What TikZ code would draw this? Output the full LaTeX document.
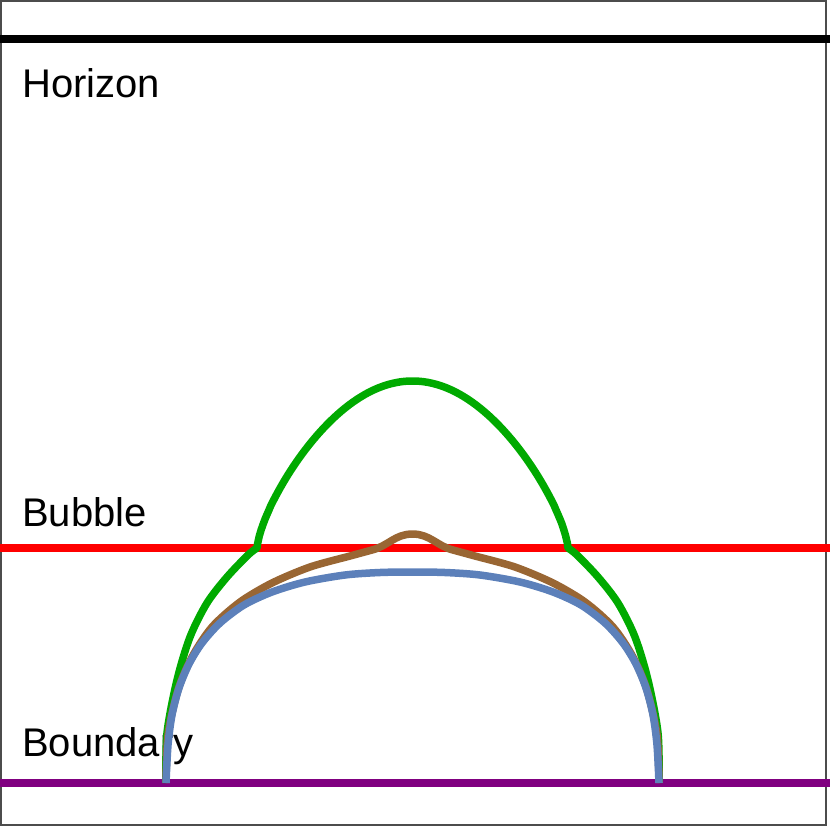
\documentclass[tikz,border=0pt]{standalone}
\usepackage{fontspec}
\setmainfont{Liberation Sans}
\definecolor{hgreen}{RGB}{0,170,0}
\definecolor{hbrown}{RGB}{153,102,51}
\definecolor{hblue}{RGB}{92,128,186}
\definecolor{hpurple}{RGB}{128,0,128}
\definecolor{hred}{RGB}{255,0,0}
\begin{document}
\begin{tikzpicture}[x=1pt,y=-1pt,
  level/.style={line width=7.5pt},
  curve/.style={line width=7.5pt,line join=round},
  lbl/.style={anchor=base west,inner sep=0pt,font=\fontsize{40}{48}\selectfont}]
\useasboundingbox (0,0) rectangle (830,830);
\draw[gray!60!black,line width=1.5pt] (1,1) rectangle (826,825);
% levels
\draw[level,black] (0,39) -- (830,39);
\draw[level,hred] (0,548) -- (830,548);
\draw[level,hpurple] (0,783) -- (830,783);
\node[lbl] (hor) at (22,97) {Horizon};
\node[lbl] (bub) at (22,526) {Bubble};
\node[lbl] (bnd) at (22,756) {Boundary};
% green curve
\draw[curve,hgreen]
  plot[smooth] coordinates {(166,783) (167,733) (177,680) (190,637) (207,603) (227,577) (248,555) (257,548)}
  -- plot[domain=-0.998:0.998,samples=161,variable=\u]
   ({412.5+155.5*\u},{548-167*pow(cos(90*\u),0.7)})
  -- (568,548)
  -- plot[smooth] coordinates {(568,548) (577,555) (598,577) (618,603) (635,637) (648,680) (658,733) (659,783)};
% brown curve
\draw[curve,hbrown]
  plot[smooth] coordinates {(166,783) (168,735) (178,690) (192,657) (212,627) (240,602) (272,583) (310,567) (350,556) (372,550)}
  .. controls (388,546) and (395,534) .. (412.5,534)
  .. controls (430,534) and (437,546) .. (453,550)
  -- plot[smooth] coordinates {(453,550) (475,556) (515,567) (553,583) (585,602) (613,627) (633,657) (647,690) (657,735) (659,783)};
% blue curve
\draw[curve,hblue]
  plot[smooth] coordinates {(166,783) (168,745) (172,715) (179,688) (189,664) (202,643) (220,623) (244,605) (272,592) (305,582) (345,575) (380,572.5) (412.5,572) (445,572.5) (480,575) (520,582) (553,592) (581,605) (605,623) (623,643) (636,664) (646,688) (653,715) (657,745) (659,783)};
\end{tikzpicture}
\end{document}
